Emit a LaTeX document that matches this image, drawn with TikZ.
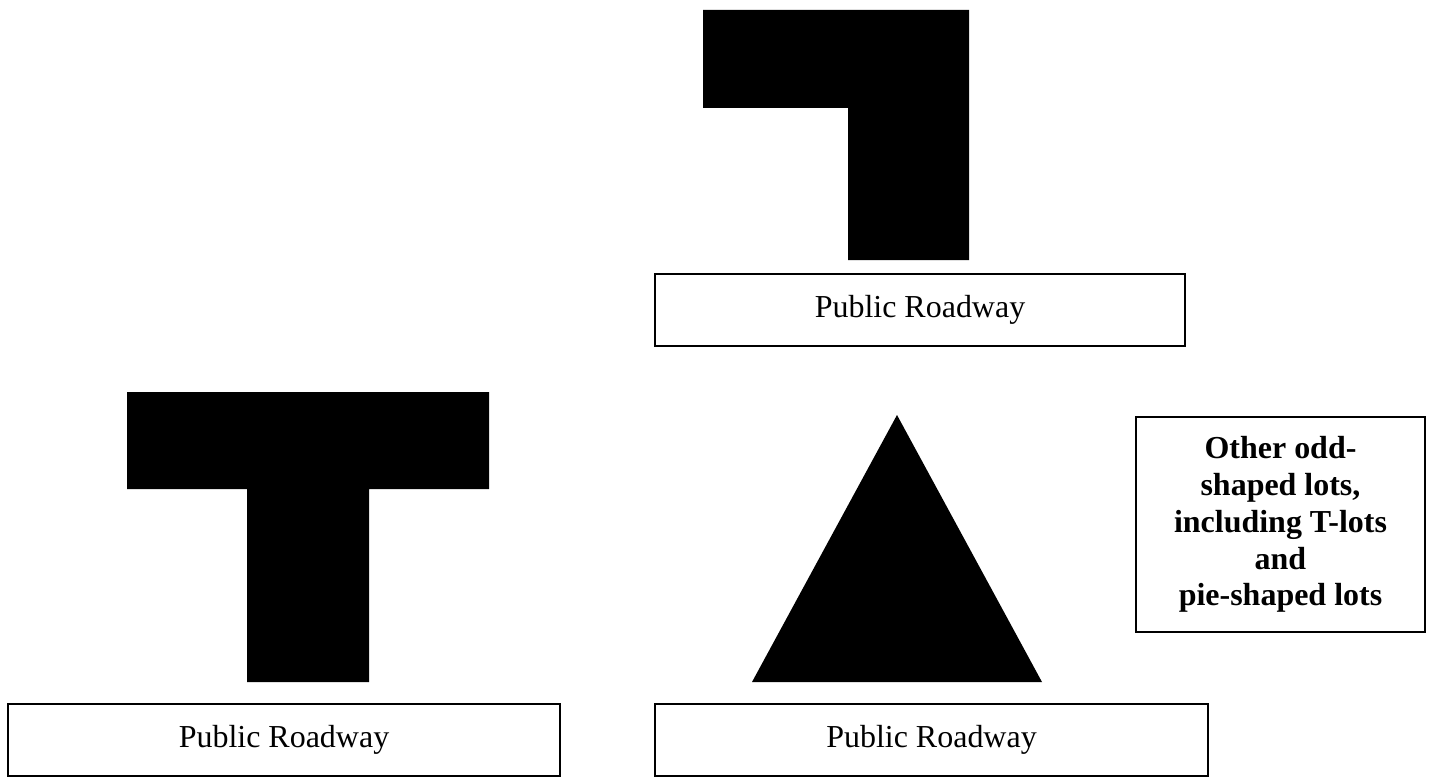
\documentclass[tikz,border=0pt]{standalone}
\usepackage{fontspec}
\setmainfont{Liberation Serif}
\tikzset{
    lot/.style={fill=black},
    road/.style={draw,line width=1pt,inner sep=0pt,minimum width=#1,minimum height=1.44cm,
        font=\fontsize{18.2}{21}\selectfont},
    note/.style={draw,line width=1pt,inner sep=0pt,minimum width=5.78cm,minimum height=4.3cm,
        align=center,font=\fontsize{18.2}{21}\selectfont\bfseries}
}

\begin{document}
\begin{tikzpicture}[x=0.02cm,y=-0.02cm]
            \useasboundingbox (0,0) rectangle (1431,777);
            % flag lot
            \fill [lot] (703,10) -- (969,10) -- (969,260) -- (848,260)
                -- (848,108) -- (703,108) -- cycle;
            \node [road=10.6cm] (roadtop) at (920,310) {Public Roadway};
            % T-lot
            \fill [lot] (127,392) -- (489,392) -- (489,489) -- (369,489)
                -- (369,682) -- (247,682) -- (247,489) -- (127,489) -- cycle;
            \node [road=11.04cm] (roadleft) at (284,740) {Public Roadway};
            % pie-shaped lot
            \fill [lot] (897,415) -- (1042,682) -- (752,682) -- cycle;
            \node [road=11.06cm] (roadright) at (931.5,740) {Public Roadway};
            \node [note] (other) at (1280.5,524.5)
                {Other odd-\\shaped lots,\\including T-lots\\and\\pie-shaped lots};
        \end{tikzpicture}
\end{document}
